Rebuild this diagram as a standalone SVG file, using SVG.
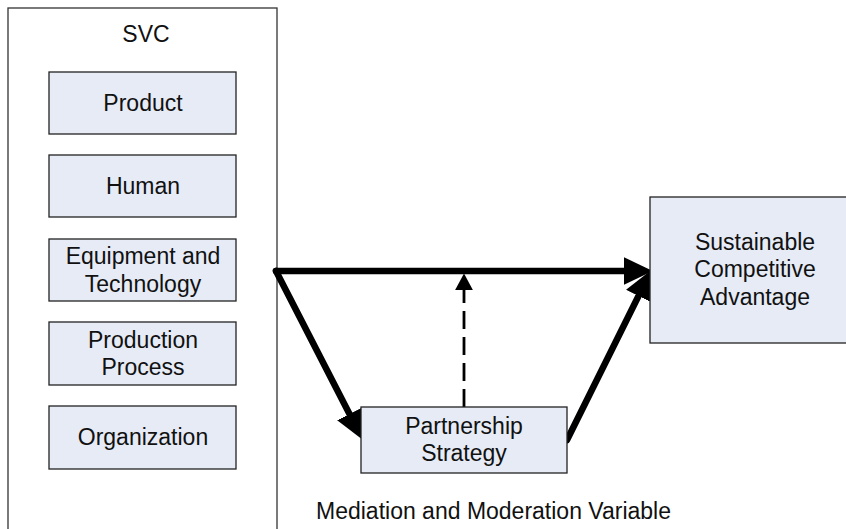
<svg xmlns="http://www.w3.org/2000/svg" width="846" height="529" viewBox="0 0 846 529">
  <style>
    .box { fill: #e6ebf6; stroke: #222; stroke-width: 1.3; }
    .outer { fill: #fff; stroke: #333; stroke-width: 1.3; }
    text { font-family: "Liberation Sans", Arial, sans-serif; font-size: 23px; fill: #111; text-anchor: middle; }
    .conn { stroke: #000; stroke-width: 6.5; fill: none; }
    .dash { stroke: #000; stroke-width: 2.8; fill: none; stroke-dasharray: 18 8; }
  </style>
  <defs>
    <marker id="bigArrow" markerUnits="userSpaceOnUse" markerWidth="30" markerHeight="30" viewBox="0 -13 27 26" refX="1" refY="0" orient="auto">
      <path d="M0,-12.5 L26,0 L0,12.5 Z" fill="#000"/>
    </marker>
    <marker id="smallArrow" markerUnits="userSpaceOnUse" markerWidth="20" markerHeight="20" viewBox="0 -9 16 18" refX="1" refY="0" orient="auto">
      <path d="M0,-8 L15,0 L0,8 Z" fill="#000"/>
    </marker>
  </defs>

  <g id="svc">
    <rect class="outer" x="8" y="8" width="269" height="540"/>
    <text x="146" y="42">SVC</text>
  </g>
  <g id="product">
    <rect class="box" x="49" y="72" width="187" height="62"/>
    <text x="143" y="110.5">Product</text>
  </g>
  <g id="human">
    <rect class="box" x="49" y="155" width="187" height="62"/>
    <text x="143" y="194">Human</text>
  </g>
  <g id="equipment">
    <rect class="box" x="49" y="239" width="187" height="62"/>
    <text x="143" y="264">Equipment and</text>
    <text x="143" y="291.5">Technology</text>
  </g>
  <g id="production">
    <rect class="box" x="49" y="322" width="187" height="63"/>
    <text x="143" y="347.5">Production</text>
    <text x="143" y="375">Process</text>
  </g>
  <g id="organization">
    <rect class="box" x="49" y="406" width="187" height="63"/>
    <text x="143" y="445">Organization</text>
  </g>

  <g id="connectors">
    <line class="conn" x1="276" y1="271" x2="625" y2="271" stroke-linecap="round" marker-end="url(#bigArrow)"/>
    <line class="conn" x1="276" y1="271" x2="350" y2="415" stroke-linecap="round" marker-end="url(#bigArrow)"/>
    <line class="conn" x1="567" y1="440" x2="639" y2="295" stroke-linecap="round" marker-end="url(#bigArrow)"/>
    <line class="dash" x1="464" y1="407" x2="464" y2="289" marker-end="url(#smallArrow)"/>
  </g>

  <g id="partnership">
    <rect class="box" x="361" y="407" width="206" height="66"/>
    <text x="464" y="433.5">Partnership</text>
    <text x="464" y="461">Strategy</text>
  </g>
  <g id="advantage">
    <rect class="box" x="650" y="197" width="212" height="146"/>
    <text x="755" y="250">Sustainable</text>
    <text x="755" y="277">Competitive</text>
    <text x="755" y="304.5">Advantage</text>
  </g>
  <text x="316" y="519" style="text-anchor:start">Mediation and Moderation Variable</text>
</svg>
